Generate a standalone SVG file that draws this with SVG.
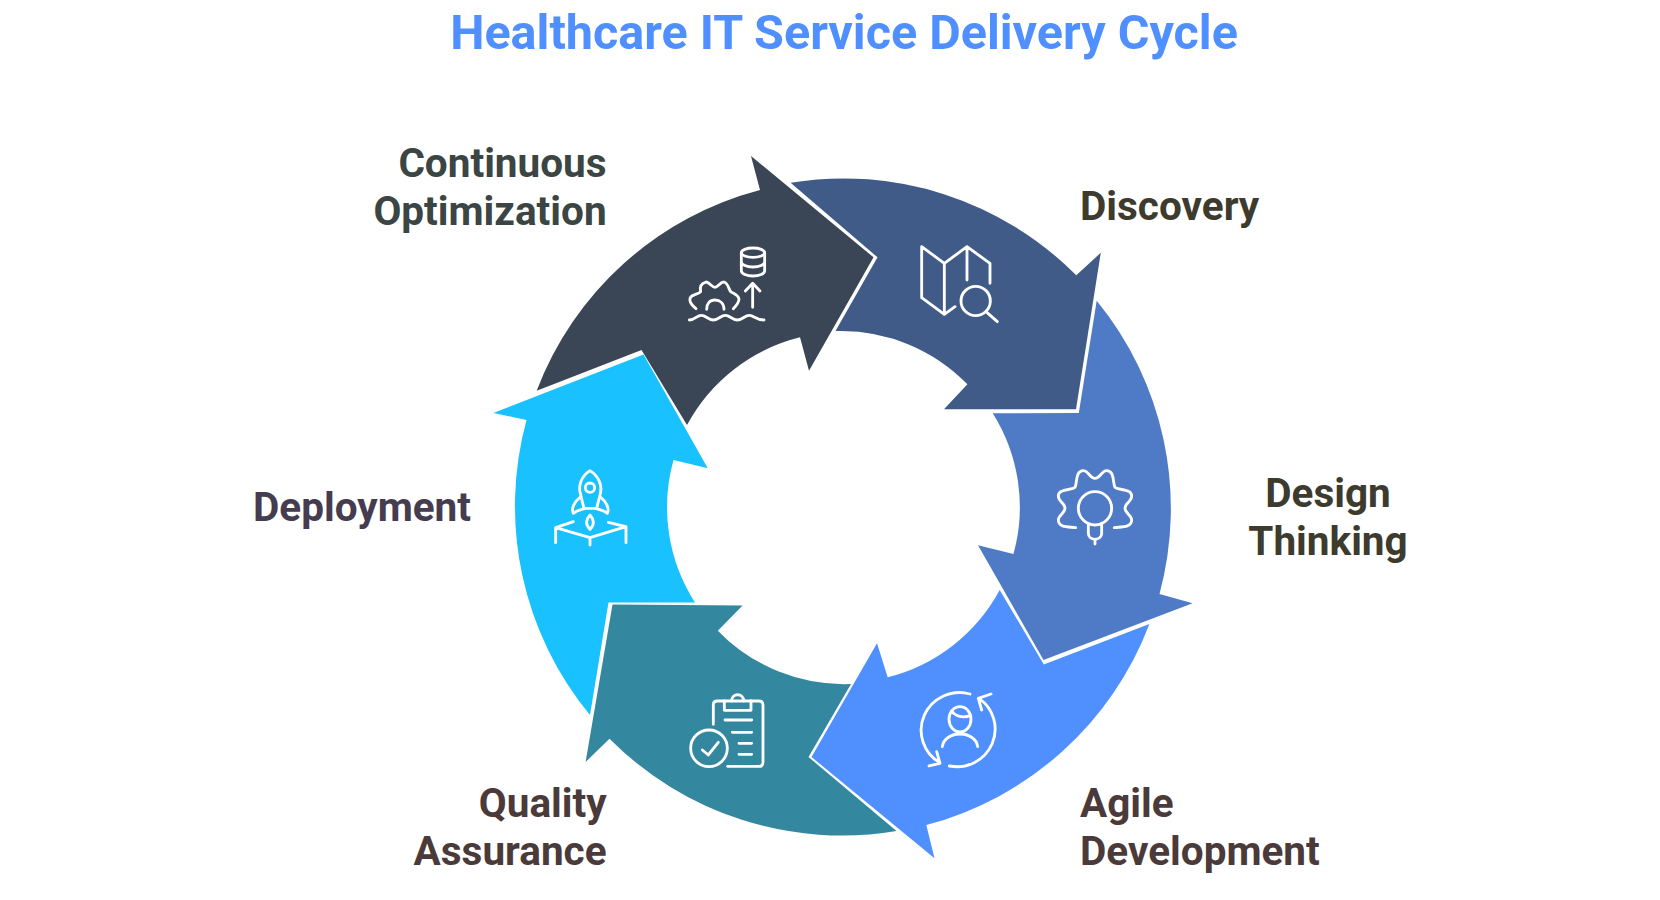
<svg xmlns="http://www.w3.org/2000/svg" width="1660" height="900" viewBox="0 0 1660 900">
<style>
text{font-family:Roboto,"Liberation Sans",sans-serif;font-weight:700}
.t{font-size:48.5px;fill:#4f8fff;text-anchor:middle}
.l{font-size:40.5px}
.e{text-anchor:end}.m{text-anchor:middle}
.i{fill:none;stroke:#fff;stroke-width:8.5;stroke-linecap:round;stroke-linejoin:round}
</style>
<rect width="1660" height="900" fill="#fff"/>
<text class="t" x="844" y="49">Healthcare IT Service Delivery Cycle</text>
<g id="node-optimization">
<path fill="#3a4555" d="M536.7 390.7A328 328 0 0 1 760 190L751 156L873.5 257.3L809 370.7L800 337.3A176 176 0 0 0 687 425L641.5 350Z"/>
<g class="i" transform="translate(670 230) scale(.3333)">
<ellipse cx="249" cy="68" rx="35" ry="14"/>
<path d="M214 68v54c0 9 16 16 35 16s35-7 35-16V68M214 95c0 9 16 16 35 16s35-7 35-16"/>
<path d="M248 232V160M226 183L248 160L270 183"/>
<path d="M58 270c18 0 22-14 36-14s20 14 36 14 22-14 36-14 20 14 36 14 22-14 36-14 20 14 44 14"/>
<path d="M78 236C65 226 58 215 60 205C64 192 82 195 92 185C88 170 95 160 108 156C120 158 126 172 135 172C145 172 150 156 162 156C175 160 175 176 182 185C192 192 205 195 207 207C207 218 198 228 190 236"/>
<path d="M110 238c0-18 10-28 25-28s27 10 27 28"/>
</g>
<text class="l e" fill="#3a4544"><tspan x="606.6" y="177">Continuous</tspan><tspan x="606.6" y="225">Optimization</tspan></text>
</g>
<g id="node-discovery">
<path fill="#405b88" d="M790.6 182.7A328 328 0 0 1 1076.3 275.3L1100.8 252.7L1076 409.3L944 409.3L967.4 384.3A176 176 0 0 0 838.8 331L835.5 331L877.5 257.3Z"/>
<g class="i" transform="translate(905 235) scale(.3333)">
<path d="M50 35L118 85V238L50 188ZM118 85L186 35L255 85V145M186 35V135M118 238L150 215"/>
<circle cx="212" cy="198" r="44"/>
<path d="M243 230L277 260"/>
</g>
<text class="l" x="1080" y="220" fill="#3d3b2e">Discovery</text>
</g>
<g id="node-design">
<path fill="#4e7ac6" d="M1096.7 300.7A328 328 0 0 1 1159.5 594L1192.6 603.3L1043.5 660L978 545.3L1013.5 554A176 176 0 0 0 992.7 413.3L1078.8 413Z"/>
<g class="i" transform="translate(1040 460) scale(.3333)">
<circle cx="165" cy="145" r="50"/>
<path d="M145 195v25c0 10 8 18 20 18s20-8 20-18v-25M165 238V252"/>
<path d="M107 203C90 200 55 205 55 180C55 165 75 160 75 145C75 130 55 125 55 108C55 85 95 92 105 82C112 72 105 32 130 32C145 32 150 55 165 55C180 55 185 32 200 32C225 32 218 72 225 82C235 92 275 85 275 108C275 125 255 130 255 145C255 160 275 165 275 180C275 205 240 200 223 203"/>
</g>
<text class="l m" fill="#3d3b2e"><tspan x="1328" y="507">Design</tspan><tspan x="1328" y="555">Thinking</tspan></text>
</g>
<g id="node-agile">
<path fill="#4f90fe" d="M1149.4 624A328 328 0 0 1 926.3 825L934.5 858.3L811.5 757L877 643.3L887.7 677.3A176 176 0 0 0 999.7 590L1043.8 664.5Z"/>
<g class="i" transform="translate(905 680) scale(.3333)">
<path d="M195 42A115 113 0 0 0 105 248M72 258L105 250L95 215"/>
<path d="M133 258A115 113 0 0 0 222 55M258 42L220 55L230 90"/>
<ellipse cx="165" cy="118" rx="33" ry="38"/>
<path d="M140 92C150 110 175 115 197 106"/>
<path d="M112 200C115 175 140 162 165 162s50 13 53 38"/>
</g>
<text class="l" fill="#4a3a3a"><tspan x="1080" y="817">Agile</tspan><tspan x="1080" y="865">Development</tspan></text>
</g>
<g id="node-quality">
<path fill="#33889f" d="M851 684L808.5 757L896.5 831A328 328 0 0 1 609.5 738.7L585.6 762L612.5 604.5L742.6 605.5L717.8 630.7A176 176 0 0 0 851 684Z"/>
<g class="i" transform="translate(675 685) scale(.3333)">
<path d="M115 118V60q0-12 12-12H148M228 48H252q12 0 12 12V232q0 12-12 12H158"/>
<rect x="148" y="48" width="80" height="28"/>
<path d="M170 48c0-25 36-25 36 0"/>
<path d="M150 105H230M172 142H230M192 175H230M192 208H230"/>
<circle cx="102" cy="190" r="55"/>
<path d="M82 195L100 210L130 172"/>
</g>
<text class="l e" fill="#4a3a3a"><tspan x="606.6" y="817">Quality</tspan><tspan x="606.6" y="865">Assurance</tspan></text>
</g>
<g id="node-deployment">
<path fill="#19c2ff" d="M590 715A328 328 0 0 1 526.5 420L493.4 412.9L643.5 354.5L707.8 468.3L673.5 460A176 176 0 0 0 695 602.5L608.5 602.5Z"/>
<g class="i" transform="translate(540 460) scale(.3333)">
<path d="M150 32C125 48 113 75 122 105L132 145H170L180 105C189 75 175 48 150 32Z"/>
<circle cx="150" cy="83" r="14"/>
<path d="M120 112C103 125 93 145 100 160C112 150 125 150 135 145M182 112C199 125 209 145 202 160C190 150 177 150 167 145"/>
<path d="M150 165C138 178 135 195 150 208C165 195 162 178 150 165Z"/>
<path d="M100 185L47 203V248M47 203L150 233L258 200V248M205 187L258 200M150 233V255"/>
</g>
<text class="l e" x="471" y="521" fill="#453c50">Deployment</text>
</g>
</svg>
